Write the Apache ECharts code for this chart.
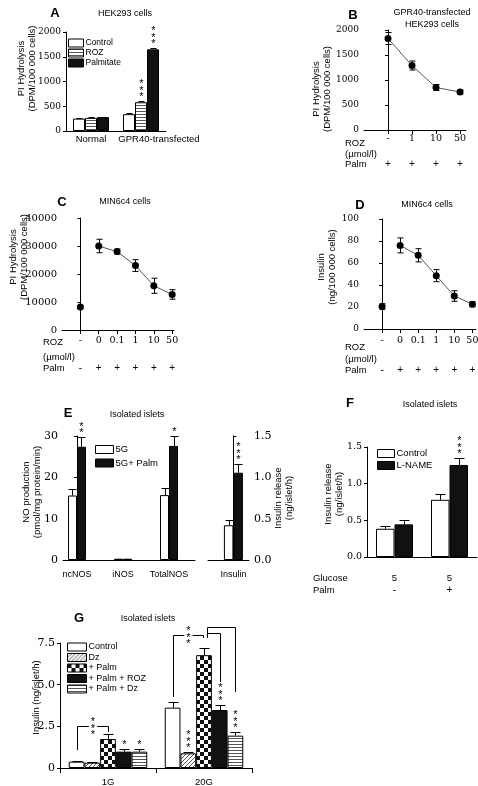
<!DOCTYPE html>
<html><head><meta charset="utf-8">
<script src="https://cdn.jsdelivr.net/npm/echarts@6/dist/echarts.min.js"></script>
<style>html,body{margin:0;padding:0;background:#fff}#c{width:478px;height:786px}</style>
</head><body><div id="c"></div>
<script>
// ================= DATA =================
// Panel A
const catsA = ['Normal', 'GPR40-transfected'];
const namesA = ['Control', 'ROZ', 'Palmitate'];
const A_control = [250, 340];
const A_roz = [265, 580];
const A_palm = [280, 1650];
const A_controlErr = [10, 15];
const A_rozErr = [12, 20];
const A_palmErr = [10, 35];
const A_sig = [['', ''], ['', '***'], ['', '***']];
// Panel B
const rozB = ['-', '1', '10', '50'];
const palmB = ['+', '+', '+', '+'];
const B_mean = [1830, 1290, 850, 760];
const B_err = [120, 90, 60, 40];
// Panel C
const rozC = ['-', '0', '0.1', '1', '10', '50'];
const palmC = ['-', '+', '+', '+', '+', '+'];
const C_mean = [8200, 30000, 28000, 23000, 15800, 12700];
const C_err = [600, 2400, 900, 2100, 2700, 1700];
// Panel D
const rozD = ['-', '0', '0.1', '1', '10', '50'];
const palmD = ['-', '+', '+', '+', '+', '+'];
const D_mean = [20.5, 76, 67, 48.5, 30, 22.5];
const D_err = [2.5, 6.8, 6, 5.5, 4.8, 2.3];
// Panel E
const catsE = ['ncNOS', 'iNOS', 'TotalNOS'];
const namesE = ['5G', '5G+ Palm'];
const E_5G = [15.6, 0.3, 15.7];
const E_5GErr = [1.5, 0.05, 1.8];
const E_palm = [27.4, 0.3, 27.6];
const E_palmErr = [2.4, 0.05, 2.4];
const E_sig = [['', '', ''], ['**', '', '*']];
const catsEIns = ['Insulin'];
const EIns_5G = [0.42];
const EIns_5GErr = [0.06];
const EIns_palm = [1.056];
const EIns_palmErr = [0.11];
const EIns_sig = [[''], ['***']];
// Panel F
const glucoseF = ['5', '5'];
const palmF = ['-', '+'];
const namesF = ['Control', 'L-NAME'];
const F_control = [0.385, 0.78];
const F_controlErr = [0.04, 0.08];
const F_lname = [0.445, 1.255];
const F_lnameErr = [0.065, 0.1];
const F_sig = [['', ''], ['', '***']];
// Panel G
const catsG = ['1G', '20G'];
const namesG = ['Control', 'Dz', '+ Palm', '+ Palm + ROZ', '+ Palm + Dz'];
const G_control = [0.38, 3.62];
const G_controlErr = [0.04, 0.36];
const G_dz = [0.32, 0.88];
const G_dzErr = [0.03, 0.1];
const G_palm = [1.74, 6.77];
const G_palmErr = [0.28, 0.44];
const G_roz = [0.98, 3.48];
const G_rozErr = [0.14, 0.3];
const G_palmDz = [0.98, 1.94];
const G_palmDzErr = [0.14, 0.24];
const G_sig = [['', ''], ['', '***'], ['', ''], ['*', '***'], ['*', '***']];
// significance brackets in G: category, from bar, to bar, bracket level, leg ends
const bracketsG = [
  {cat: 0, from: 0, to: 2, top: 2.52, fromEnd: 1.08, toEnd: 2.16, text: '***'},
  {cat: 1, from: 0, to: 2, top: 7.97, fromEnd: 4.26, toEnd: 7.8, text: '***'},
  {cat: 1, from: 2, to: 3, top: 8.09, fromEnd: 7.8, toEnd: 5.16, text: ''},
  {cat: 1, from: 2, to: 4, top: 8.45, fromEnd: 7.8, toEnd: 4.56, text: ''}
];

// ================= STYLE =================
const SANS = 'Liberation Sans, Arial, sans-serif';
const SERIF = 'DejaVu Serif, serif';
const BLACK = '#111';
const LS = {color: '#000', width: 1};
const bracketLegShift = [[0, 0], [0, -1], [3, 0], [3, 0]];

function makePattern(kind) {
  const c = document.createElement('canvas');
  const ctx = c.getContext('2d');
  if (kind === 'h') {
    c.width = 4; c.height = 3;
    ctx.fillStyle = '#fff'; ctx.fillRect(0, 0, 4, 3);
    ctx.fillStyle = '#555'; ctx.fillRect(0, 0, 4, 1);
  } else if (kind === 'd') {
    c.width = 4; c.height = 4;
    ctx.fillStyle = '#fff'; ctx.fillRect(0, 0, 4, 4);
    ctx.fillStyle = '#555';
    for (let k = 0; k < 4; k++) ctx.fillRect(k, 3 - k, 1, 1);
  } else {
    c.width = 8; c.height = 8;
    ctx.fillStyle = '#fff'; ctx.fillRect(0, 0, 8, 8);
    ctx.fillStyle = '#111'; ctx.fillRect(0, 0, 4, 4); ctx.fillRect(4, 4, 4, 4);
  }
  return {image: c, repeat: 'repeat'};
}
const PAT_H = makePattern('h'), PAT_D = makePattern('d'), PAT_C = makePattern('c');

const grids = [
  {left: 66, top: 32, width: 100, height: 99},    // 0 A
  {left: 364, top: 30, width: 102, height: 100},  // 1 B
  {left: 62, top: 218, width: 112, height: 112},  // 2 C
  {left: 364, top: 219, width: 112, height: 110}, // 3 D
  {left: 63, top: 436, width: 132, height: 124},  // 4 E NO
  {left: 208, top: 436, width: 41, height: 124},  // 5 E insulin
  {left: 367, top: 447, width: 110, height: 110}, // 6 F
  {left: 60, top: 643, width: 192, height: 125}   // 7 G
].map(g => Object.assign({containLabel: false, outerBoundsMode: 'none'}, g));

const plain = v => String(v);
function yAx(gridIndex, min, max, interval, fontSize, name, nameGap, shift, fmt, position) {
  return {
    gridIndex, type: 'value', min, max, interval, position: position || 'left',
    axisLine: {show: true, lineStyle: LS},
    axisTick: {show: true, length: 3, lineStyle: LS},
    splitLine: {show: false},
    axisLabel: {color: '#000', fontFamily: SERIF, fontSize, margin: 5, formatter: fmt || plain},
    name, nameLocation: 'middle', nameRotate: 90, nameGap, nameMoveOverlap: false,
    nameTextStyle: {color: '#000', fontFamily: SANS, fontSize: 9.5, lineHeight: 11,
      padding: shift >= 0 ? [0, 0, 0, 2 * shift] : [0, -2 * shift, 0, 0]}
  };
}
function idxs(arr) { return arr.map((_, i) => i); }
function xVal(gridIndex, min, max, labels, font, fontSize, margin, opts) {
  return Object.assign({
    gridIndex, type: 'value', min, max, position: 'bottom',
    axisLine: {show: true, lineStyle: LS},
    axisTick: {show: false},
    splitLine: {show: false},
    axisLabel: {customValues: idxs(labels), formatter: v => labels[Math.round(v)] || '',
      color: '#000', fontFamily: font, fontSize, margin}
  }, opts || {});
}
function xCat(gridIndex, data, fontSize, margin, opts) {
  return Object.assign({
    gridIndex, type: 'category', data, position: 'bottom',
    axisLine: {show: true, lineStyle: LS},
    axisTick: {show: false},
    splitLine: {show: false},
    axisLabel: {interval: 0, color: '#000', fontFamily: SANS, fontSize, margin}
  }, opts || {});
}

const xAxes = [
  xCat(0, catsA.map((c, i) => i === 1 ? {value: c, textStyle: {padding: [0, 0, 0, 36]}} : c), 9.5, 3),
  xVal(1, -1, 3.25, rozB, SERIF, 9.5, 4, {axisTick: {show: true, length: 4, lineStyle: LS, customValues: idxs(rozB)}}),
  xVal(1, -1, 3.25, palmB, SANS, 10, 3, {offset: 26, axisLine: {show: false}}),
  xVal(2, -1, 5.1, rozC, SERIF, 9.5, 6, {axisTick: {show: true, length: 4, lineStyle: LS, customValues: idxs(rozC)}}),
  xVal(2, -1, 5.1, palmC, SANS, 10, 3, {offset: 30, axisLine: {show: false}}),
  xVal(3, -1, 5.2, rozD, SERIF, 9.5, 7, {axisTick: {show: true, length: 4, lineStyle: LS, customValues: idxs(rozD)}}),
  xVal(3, -1, 5.2, palmD, SANS, 10, 3, {offset: 33, axisLine: {show: false}}),
  xVal(4, -0.304, 2.565, catsE, SANS, 9, 10),
  xVal(5, -0.62, 0.38, catsEIns, SANS, 9, 10),
  xCat(6, glucoseF, 9.5, 16),
  xCat(6, palmF, 10, 2, {offset: 26, axisLine: {show: false}}),
  xCat(7, catsG, 9.5, 9, {axisTick: {show: true, length: 5, lineStyle: LS}})
];
const f1 = v => v.toFixed(1);
const yAxes = [
  yAx(0, 0, 2000, 500, 9, 'PI Hydrolysis\n(DPM/100 000 cells)', 28, 13),
  yAx(1, 0, 2000, 500, 9, 'PI Hydrolysis\n(DPM/100 000 cells)', 31.5, -9),
  yAx(2, 0, 40000, 10000, 10, 'PI Hydrolysis\n(DPM/100 000 cells)', 32.5, 17),
  yAx(3, 0, 100, 20, 9, 'Insulin\n(ng/100 000 cells)', 26.5, 7),
  yAx(4, 0, 30, 10, 11, 'NO production\n(pmol/mg protein/min)', 20.5, 6),
  yAx(5, 0, 1.5, 0.5, 11, 'Insulin release\n(ng/islet/h)', 23.5, 0, f1, 'right'),
  yAx(6, 0, 1.5, 0.5, 9.5, 'Insulin release\n(ng/islet/h)', 22.5, 8, f1),
  yAx(7, 0, 7.5, 2.5, 11, 'Insulin (ng/islet/h)', 18.5, 8, v => v === 0 ? '0' : v.toFixed(1))
];

function bar(name, xi, yi, data, color, barW) {
  return {type: 'bar', name, xAxisIndex: xi, yAxisIndex: yi, data, barWidth: barW, barGap: '0%',
    itemStyle: {color, borderColor: '#000', borderWidth: 1}, emphasis: {disabled: true}, z: 2};
}
function asPairs(arr) { return arr.map((v, i) => [i, v]); }
function starText(t) { return t.split('').join('\n'); }

function barErr(xi, yi, means, errs, sigs, barW, cap) {
  const n = means.length, data = [], texts = [];
  means.forEach((arr, s) => arr.forEach((v, i) => { data.push([i, v, errs[s][i], s]); texts.push(sigs ? sigs[s][i] : ''); }));
  return {type: 'custom', xAxisIndex: xi, yAxisIndex: yi, data, clip: false, silent: true, z: 5,
    renderItem(params, api) {
      const i = api.value(0), v = api.value(1), e = api.value(2), s = api.value(3);
      const p0 = api.coord([i, v]), p1 = api.coord([i, v + e]);
      const x = Math.round(p0[0] + (s - (n - 1) / 2) * barW) + 0.5;
      const y1 = Math.round(p1[1]) + 0.5;
      const ch = [
        {type: 'line', shape: {x1: x, y1: p0[1], x2: x, y2: y1}, style: {stroke: '#000', lineWidth: 1}},
        {type: 'line', shape: {x1: x - cap, y1, x2: x + cap, y2: y1}, style: {stroke: '#000', lineWidth: 1}}
      ];
      const t = texts[params.dataIndex];
      if (t) ch.push({type: 'text', style: {text: starText(t), x, y: y1 - 1, align: 'center', verticalAlign: 'bottom',
        fontSize: 11, lineHeight: 6.5, fontFamily: SANS, fill: '#000'}});
      return {type: 'group', children: ch};
    }};
}
function pointErr(xi, yi, means, errs, cap) {
  return {type: 'custom', xAxisIndex: xi, yAxisIndex: yi, data: means.map((v, i) => [i, v, errs[i]]),
    clip: false, silent: true, z: 3,
    renderItem(params, api) {
      const i = api.value(0), v = api.value(1), e = api.value(2);
      const lo = api.coord([i, v - e]), hi = api.coord([i, v + e]);
      const x = Math.round(lo[0]) + 0.5;
      const st = {stroke: '#000', lineWidth: 1};
      return {type: 'group', children: [
        {type: 'line', shape: {x1: x, y1: lo[1], x2: x, y2: hi[1]}, style: st},
        {type: 'line', shape: {x1: x - cap, y1: lo[1], x2: x + cap, y2: lo[1]}, style: st},
        {type: 'line', shape: {x1: x - cap, y1: hi[1], x2: x + cap, y2: hi[1]}, style: st}
      ]};
    }};
}
function lineSeries(xi, yi, pairs) {
  return {type: 'line', xAxisIndex: xi, yAxisIndex: yi, data: pairs, symbol: 'circle', symbolSize: 7,
    lineStyle: {color: '#555', width: 1}, itemStyle: {color: '#000'}, z: 4, emphasis: {disabled: true}};
}
function brackets(xi, yi, defs, nBars, barW) {
  return {type: 'custom', xAxisIndex: xi, yAxisIndex: yi, data: defs.map((b, k) => [b.cat, b.top, k]),
    clip: false, silent: true, z: 6,
    renderItem(params, api) {
      const b = defs[params.dataIndex], sh = bracketLegShift[params.dataIndex];
      const c = api.coord([b.cat, b.top]);
      const xa = Math.round(c[0] + (b.from - (nBars - 1) / 2) * barW + sh[0]) + 0.5;
      const xb = Math.round(c[0] + (b.to - (nBars - 1) / 2) * barW + sh[1]) + 0.5;
      const yt = Math.round(c[1]) + 0.5;
      const ya = api.coord([b.cat, b.fromEnd])[1], yb = api.coord([b.cat, b.toEnd])[1];
      const ch = [{type: 'polyline', shape: {points: [[xa, ya], [xa, yt], [xb, yt], [xb, yb]]},
        style: {stroke: '#000', lineWidth: 1, fill: null}}];
      if (b.text) ch.push({type: 'text', z2: 10, style: {text: starText(b.text), x: (xa + xb) / 2, y: yt + 2,
        align: 'center', verticalAlign: 'middle', fontSize: 11, lineHeight: 6.5, fontFamily: SANS, fill: '#000',
        backgroundColor: '#fff', padding: [1, 2, 0, 2]}});
      return {type: 'group', children: ch};
    }};
}

const series = [
  // A
  bar(namesA[0], 0, 0, A_control, '#fff', 12),
  bar(namesA[1], 0, 0, A_roz, PAT_H, 12),
  bar(namesA[2], 0, 0, A_palm, BLACK, 12),
  barErr(0, 0, [A_control, A_roz, A_palm], [A_controlErr, A_rozErr, A_palmErr], A_sig, 12, 3),
  // B
  pointErr(1, 1, B_mean, B_err, 3),
  lineSeries(1, 1, asPairs(B_mean)),
  // C
  pointErr(3, 2, C_mean, C_err, 3),
  lineSeries(3, 2, asPairs(C_mean).slice(1)),
  lineSeries(3, 2, asPairs(C_mean).slice(0, 1)),
  // D
  pointErr(5, 3, D_mean, D_err, 3),
  lineSeries(5, 3, asPairs(D_mean).slice(1)),
  lineSeries(5, 3, asPairs(D_mean).slice(0, 1)),
  // E
  bar(namesE[0], 7, 4, asPairs(E_5G), '#fff', 9),
  bar(namesE[1], 7, 4, asPairs(E_palm), BLACK, 9),
  barErr(7, 4, [E_5G, E_palm], [E_5GErr, E_palmErr], E_sig, 9, 4),
  bar(namesE[0], 8, 5, asPairs(EIns_5G), '#fff', 9.5),
  bar(namesE[1], 8, 5, asPairs(EIns_palm), BLACK, 9.5),
  barErr(8, 5, [EIns_5G, EIns_palm], [EIns_5GErr, EIns_palmErr], EIns_sig, 9.5, 4),
  // F
  bar(namesF[0], 9, 6, F_control, '#fff', 18.5),
  bar(namesF[1], 9, 6, F_lname, BLACK, 18.5),
  barErr(9, 6, [F_control, F_lname], [F_controlErr, F_lnameErr], F_sig, 18.5, 5),
  // G
  bar(namesG[0], 11, 7, G_control, '#fff', 15.7),
  bar(namesG[1], 11, 7, G_dz, PAT_D, 15.7),
  bar(namesG[2], 11, 7, G_palm, PAT_C, 15.7),
  bar(namesG[3], 11, 7, G_roz, BLACK, 15.7),
  bar(namesG[4], 11, 7, G_palmDz, PAT_H, 15.7),
  barErr(11, 7, [G_control, G_dz, G_palm, G_roz, G_palmDz],
    [G_controlErr, G_dzErr, G_palmErr, G_rozErr, G_palmDzErr], G_sig, 15.7, 5),
  brackets(11, 7, bracketsG, 5, 15.7)
];

function legend(data, left, top, w, gap, fs) {
  return {data, left, top, orient: 'vertical', icon: 'rect', itemWidth: w, itemHeight: 8, itemGap: gap,
    padding: 0, selectedMode: false, itemStyle: {borderColor: '#000', borderWidth: 1},
    textStyle: {color: '#000', fontFamily: SANS, fontSize: fs, padding: [0, 0, 0, -3]}};
}

function txt(text, x, y, opts) {
  return {type: 'text', x, y, silent: true, style: Object.assign({text, fill: '#000', fontFamily: SANS, fontSize: 9,
    align: 'center', verticalAlign: 'middle'}, opts || {})};
}
const bold = {fontSize: 13, fontWeight: 'bold'};
const hdr = {align: 'left', fontSize: 9.5};
const texts = [
  txt('A', 55, 13, bold), txt('HEK293 cells', 125, 14),
  txt('B', 353, 15, bold), txt('GPR40-transfected', 432, 13), txt('HEK293 cells', 432, 25),
  txt('C', 62, 202, bold), txt('MIN6c4 cells', 125, 202),
  txt('D', 360, 205, bold), txt('MIN6c4 cells', 427, 205),
  txt('E', 68, 413, bold), txt('Isolated islets', 137, 415),
  txt('F', 350, 403, bold), txt('Isolated islets', 430, 405),
  txt('G', 79, 618, bold), txt('Isolated islets', 148, 619),
  txt('ROZ', 345, 143, hdr), txt('(\u00b5mol/l)', 345, 154, hdr), txt('Palm', 345, 164, hdr),
  txt('ROZ', 43, 342, hdr), txt('(\u00b5mol/l)', 43, 357, hdr), txt('Palm', 43, 368, hdr),
  txt('ROZ', 345, 347, hdr), txt('(\u00b5mol/l)', 345, 359, hdr), txt('Palm', 345, 370, hdr),
  txt('Glucose', 313, 578, hdr), txt('Palm', 313, 590, hdr)
];

const chart = echarts.init(document.getElementById('c'), null, {renderer: 'canvas', width: 478, height: 786});
chart.setOption({
  animation: false,
  backgroundColor: '#fff',
  grid: grids,
  xAxis: xAxes,
  yAxis: yAxes,
  legend: [
    legend(namesA, 68, 38.5, 15, 1, 8.5),
    legend(namesE, 95, 444.5, 18, 3.5, 9.5),
    legend(namesF, 377, 448.5, 17, 2, 9.5),
    legend(namesG, 67, 642.5, 19, 1.5, 9)
  ],
  series,
  graphic: {elements: texts}
});
</script></body></html>
